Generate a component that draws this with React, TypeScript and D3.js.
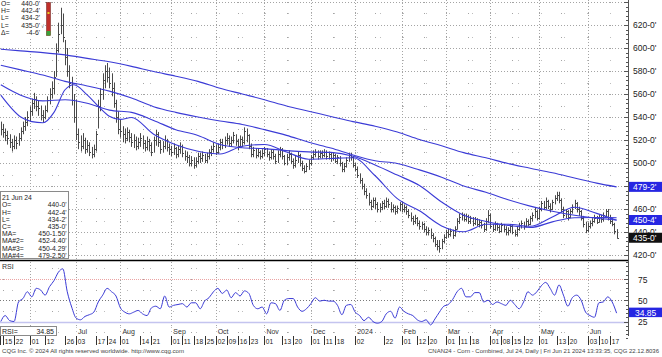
import React from 'react';
import * as d3 from 'd3';

// ---------- calendar ----------
const FIRST_DAY = '2023-05-12';
const LAST_DAY = '2024-06-21';
const HOLIDAYS = ['2023-05-29','2023-06-19','2023-07-04','2023-09-04','2023-11-23','2023-12-25','2024-01-01','2024-01-15','2024-02-19','2024-03-29','2024-05-27','2024-06-19'];

// ---------- daily bars (cents) ----------
const highs = [
  536,534,530,528,525,521,524,523,526,531,
  536,540,545,549,556,561,558,554,550,546,
  550,558,565,571,580,604,622,635,630,607,
  600,585,575,560,555,530,524,526,522,520,
  518,514,516,528,555,565,578,585,587,583,
  578,570,555,545,538,532,530,531,529,526,
  525,523,522,526,524,520,523,521,518,523,
  529,527,520,519,524,521,517,515,517,514,
  515,518,516,511,510,507,506,505,505,509,
  509,510,508,509,512,515,518,516,517,521,
  521,523,526,524,523,527,525,521,524,523,
  531,530,525,517,514,513,513,511,512,514,
  513,510,512,512,508,511,514,513,507,508,
  511,509,504,506,510,508,502,498,500,503,
  507,511,512,511,511,511,512,511,510,509,
  509,508,507,506,501,500,505,509,509,506,
  500,497,491,487,482,478,474,468,470,470,
  466,465,467,468,470,469,466,464,463,463,
  466,466,464,463,460,457,454,455,453,450,
  449,448,445,444,443,439,436,433,433,434,
  438,442,443,443,442,445,452,456,457,456,
  456,455,454,453,453,452,451,450,448,452,
  459,456,447,449,448,446,448,447,445,444,
  447,446,442,445,448,450,449,452,451,454,
  457,461,459,462,467,467,470,468,465,468,
  472,475,475,469,462,460,459,460,464,468,
  466,462,459,454,449,448,450,452,455,454,
  455,455,457,460,460,455,452,448,442.5
];
const lows = [
  524,522,519,516,513,510,512,512,515,519,
  525,528,532,536,541,547,545,541,537,535,
  538,544,551,556,560,575,596,612,605,585,
  575,565,550,535,520,512,510,512,508,509,
  506,504,505,510,530,545,555,565,570,565,
  558,548,535,525,522,518,517,519,518,514,
  513,511,512,514,512,510,511,510,506,509,
  515,514,508,509,512,510,507,506,507,504,
  505,508,505,502,500,497,497,495,496,499,
  500,501,500,500,503,506,509,507,508,511,
  512,513,516,514,514,517,515,511,513,514,
  516,518,512,505,505,504,505,503,504,506,
  505,502,503,503,499,500,505,503,498,498,
  502,499,495,496,500,497,493,491,492,494,
  498,503,505,503,504,504,505,503,503,501,
  502,500,499,497,492,492,496,501,502,496,
  493,487,482,477,472,469,463,459,461,460,
  457,457,459,460,461,461,457,457,455,456,
  458,457,457,455,452,449,446,447,445,442,
  442,440,437,437,434,431,427,424,422,425,
  430,434,435,436,434,436,442,447,450,449,
  449,447,447,445,446,445,444,443,440,441,
  448,443,440,441,441,439,440,440,437,437,
  439,438,436,436,441,443,442,444,445,446,
  449,452,450,451,458,459,460,460,457,459,
  464,467,465,457,452,452,450,452,456,460,
  457,454,450,444,439,440,443,445,448,447,
  448,448,449,452,450,447,445,438,434.25
];
const closes = [
  530,527,524,522,518,515,520,517,522,528,
  532,536,540,545,552,556,550,548,542,540,
  546,555,560,565,575,598,612,620,610,592,
  580,570,555,540,525,518,515,520,512,516,
  510,508,512,525,550,560,572,580,575,570,
  565,552,540,530,528,525,522,527,523,518,
  520,515,518,522,517,514,519,516,510,520,
  525,518,512,515,520,514,512,510,513,508,
  512,515,509,506,505,500,503,498,502,506,
  504,507,503,506,510,512,515,510,514,518,
  516,520,522,517,520,524,519,515,521,518,
  528,524,515,508,511,507,510,506,509,512,
  508,505,510,506,502,508,512,506,500,505,
  508,502,498,503,507,500,496,493,497,500,
  505,508,510,506,509,507,510,506,508,504,
  507,502,505,500,495,497,503,507,505,498,
  495,490,485,480,476,472,466,463,468,464,
  460,462,465,463,467,464,460,462,458,461,
  464,460,462,458,455,452,450,452,448,445,
  447,443,440,442,437,435,430,428,426,432,
  436,440,438,441,437,443,450,453,455,451,
  454,450,452,448,451,447,449,446,443,450,
  455,445,443,447,444,441,446,443,440,442,
  445,440,438,443,446,448,445,450,447,452,
  455,458,452,460,465,462,467,463,460,466,
  470,472,468,460,455,458,453,458,462,465,
  460,458,452,447,442,445,448,450,452,449,
  453,451,455,458,453,450,447,441,435
];

// ---------- moving averages (read at bar indices) ----------
const maFastIdx = [0,9,14,19,24,29,33,39,44,49,54,59,69,79,89,99,109,119,129,139,149,159,169,179,189,199,209,219,229,239,249,259,269,278];
const maFast = [559,540,536,535,544,563.7,568,559.2,549.4,540.7,537.9,539.6,525,515.9,510.2,507.8,514.6,516.1,509.6,503.3,503.9,504.6,488.9,469,458.4,445.3,440.2,446.7,446.8,445,453.1,461.5,456.2,450.15];
const maIdx = [0,9,19,29,39,49,59,69,79,89,99,109,119,129,139,149,159,169,179,189,199,209,219,229,239,249,259,269,278];
const ma2 = [568,559,554,555,552,546,544,537,529,524,516.1,513.3,512.5,510.8,509.7,509.2,505.8,498.3,489.5,480.4,466.1,454.6,449.2,445.7,443.9,448.8,452.4,452.6,452.44];
const ma3 = [585,581,576.5,571,567,562.5,556.5,549,544,540,536.5,533.5,529,524,518,513,507,502,499.5,494,487.7,480,474.5,468,462.5,458,454.5,452,450.43];
const ma4 = [599,597.5,596,594,591,588,584,579.5,575.5,571,565,560,555,549.5,545,540.5,536,532,527,520.5,515,509,504.5,499.5,495.5,491.5,487,482.5,479.25];

// ---------- RSI (every 2nd bar) ----------
const rsiStep = 2;
const rsi = [
  25,32,26,25,48,52,60,54,64,62,
  56,66,73,83,87,60,42,29,27,31,
  33,36,48,56,64,60,55,41,36,34,
  36,38,34,32,41,43,40,55,42,44,
  45,46,42,47,47,40,49,53,60,64,
  58,62,53,59,55,61,58,44,40,42,
  34,47,46,38,50,52,52,42,37,40,
  46,53,49,50,49,49,44,33,44,45,
  36,32,26,30,25,23,25,34,37,29,
  42,37,34,32,27,25,27,21,28,36,
  43,45,51,60,64,54,54,59,59,48,
  50,45,48,46,44,50,45,40,48,60,
  56,60,67,71,64,56,68,56,43,53,
  56,50,36,32,30,47,48,54,48,34.85
];

// ---------- axes / labels ----------
const priceTicks = [420,440,460,500,520,540,560,580,600,620];
const gridLevels = [420,440,460,480,500,520,540,560,580,600,620,640];
const rsiTicks = [25,50,75];
const monthStarts = ['2023-06-01','2023-07-03','2023-08-01','2023-09-01','2023-10-02','2023-11-01','2023-12-01','2024-01-02','2024-02-01','2024-03-01','2024-04-01','2024-05-01','2024-06-03'];
const monthLabels = ['','Jul','Aug','Sep','Oct','Nov','Dec','2024','Feb','Mar','Apr','May','Jun'];
const dayLabels = ['2023-05-15','2023-05-22','2023-06-01','2023-06-12','2023-06-26','2023-07-03','2023-07-17','2023-07-24','2023-08-01','2023-08-14','2023-08-21','2023-09-01','2023-09-11','2023-09-18','2023-09-25','2023-10-02','2023-10-09','2023-10-16','2023-10-23','2023-11-01','2023-11-13','2023-11-20','2023-12-01','2023-12-11','2023-12-18','2024-01-02','2024-01-22','2024-02-01','2024-02-12','2024-02-20','2024-03-01','2024-03-11','2024-03-18','2024-04-01','2024-04-08','2024-04-15','2024-04-22','2024-05-01','2024-05-13','2024-05-20','2024-06-03','2024-06-10','2024-06-17'];

const topLegendLabels = ['O=','H=','L=','L=','\u0394='];
const topLegendValues = ["440-0'","442-4'","434-2'","435-0'","-4-6'"];
const boxDate = '21 Jun 24';
const boxLabels = ['O=','H=','L=','C=','MA=','MA#2=','MA#3=','MA#4='];
const boxValues = ["440-0'","442-4'","434-2'","435-0'","450-1.50'","452-4.40'","450-4.29'","479-2.50'"];
const axisBoxes = [
  { v: 479.25, text: "479-2'", fill: '#2626e2' },
  { v: 450.43, text: "450-4'", fill: '#2626e2' },
  { v: 435, text: "435-0'", fill: '#111111' },
];
const rsiLast = 34.85;
const footerLeft = 'CQG Inc. \u00a9 2024 All rights reserved worldwide. http://www.cqg.com';
const footerRight = 'CNAN24 - Corn - Combined, Jul 24, Daily | Fri Jun 21 2024 13:33:35, CQG 22.12.8036';

function buildDays(): string[] {
  const out: string[] = [];
  const d = new Date(FIRST_DAY + 'T00:00:00Z');
  const end = new Date(LAST_DAY + 'T00:00:00Z');
  while (d <= end) {
    const wd = d.getUTCDay();
    const s = d.toISOString().slice(0, 10);
    if (wd !== 0 && wd !== 6 && !HOLIDAYS.includes(s)) out.push(s);
    d.setUTCDate(d.getUTCDate() + 1);
  }
  return out;
}

const FONT = "'Liberation Sans', Arial, Helvetica, sans-serif";
const GRID = '#a4a4a4';
const BLUE = '#3b3bd6';
const PLOT_R = 628;

export default function App() {
  const days = buildDays();
  const idxOf = new Map(days.map((d, i) => [d, i] as [string, number]));
  const n = closes.length;
  const x = d3.scaleLinear().domain([0, n - 1]).range([0.8, 616.6]);
  const y = d3.scaleLinear().domain([420, 620]).range([255, 25]);
  const yr = d3.scaleLinear().domain([25, 75]).range([321.5, 279]);
  const px = (i: number) => Math.round(x(i)) + 0.5;

  const majorX = monthStarts.map(d => idxOf.get(d)).filter(v => v !== undefined) as number[];
  const minorX: number[] = [];
  const seen = new Set<string>();
  days.forEach((d, i) => {
    const ym = d.slice(0, 7);
    if (!seen.has(ym) && +d.slice(8, 10) >= 15) { seen.add(ym); minorX.push(i); }
  });

  const levelsAll = d3.range(420, 650, 10);
  const levelsMinor = levelsAll.filter(v => v % 20 !== 0);
  const rsiMajor = [25, 50, 75];
  const rsiMinor = [12.5, 37.5, 62.5, 87.5];

  const lineFor = (idx: number[], sc: (v: number) => number) =>
    d3.line<number>().x((_, i) => x(idx[i])).y(v => sc(v)).curve(d3.curveMonotoneX);

  const rsiIdx = rsi.map((_, k) => Math.min(k * rsiStep, n - 1));

  const dots: JSX.Element[] = [];
  minorX.forEach((i, a) => {
    levelsAll.forEach((v, b) => dots.push(<rect key={`pm${a}-${b}`} x={Math.round(x(i))} y={Math.round(y(v))} width={1} height={1} fill={GRID} />));
    [...rsiMajor, ...rsiMinor].forEach((v, b) => dots.push(<rect key={`rm${a}-${b}`} x={Math.round(x(i))} y={Math.round(yr(v))} width={1} height={1} fill={GRID} />));
  });
  const allV = [...majorX, ...minorX];
  allV.forEach((i, a) => {
    levelsMinor.forEach((v, b) => dots.push(<rect key={`pn${a}-${b}`} x={Math.round(x(i))} y={Math.round(y(v))} width={1} height={1} fill={GRID} />));
  });
  levelsMinor.forEach((v, b) => {
    for (let xx = 12; xx < PLOT_R; xx += 23) dots.push(<rect key={`ps${b}-${xx}`} x={xx} y={Math.round(y(v))} width={1} height={1} fill="#bdbdbd" />);
  });
  rsiMinor.forEach((v, b) => {
    for (let xx = 12; xx < PLOT_R; xx += 23) dots.push(<rect key={`rs${b}-${xx}`} x={xx} y={Math.round(yr(v))} width={1} height={1} fill="#bdbdbd" />);
  });

  return (
    <svg width={662} height={357} viewBox="0 0 662 357" style={{ position: 'absolute', left: 0, top: 0, background: '#fff' }} fontFamily={FONT}>
      <defs>
        <clipPath id="pc"><rect x={0} y={0} width={PLOT_R} height={260} /></clipPath>
        <clipPath id="rc"><rect x={0} y={262} width={PLOT_R} height={64} /></clipPath>
      </defs>
      <rect x={0} y={0} width={662} height={357} fill="#fff" />

      {/* grid: price */}
      {gridLevels.map(v => (
        <line key={`h${v}`} x1={0} x2={PLOT_R} y1={Math.round(y(v)) + 0.5} y2={Math.round(y(v)) + 0.5} stroke={GRID} strokeDasharray="1,2" />
      ))}
      {majorX.map(i => (
        <g key={`v${i}`}>
          <line x1={px(i)} x2={px(i)} y1={0} y2={260} stroke={GRID} strokeDasharray="1,2" />
          <line x1={px(i)} x2={px(i)} y1={262} y2={326} stroke={GRID} strokeDasharray="1,2" />
          <line x1={px(i)} x2={px(i)} y1={327} y2={335} stroke="#c0c0c0" strokeDasharray="1,3" />
        </g>
      ))}
      {dots}

      {/* RSI reference lines */}
      <line x1={0} x2={PLOT_R} y1={Math.round(yr(75)) + 0.5} y2={Math.round(yr(75)) + 0.5} stroke="#eba3a3" strokeDasharray="1,1" />
      <line x1={0} x2={PLOT_R} y1={Math.round(yr(50)) + 0.5} y2={Math.round(yr(50)) + 0.5} stroke="#7a7a7a" strokeDasharray="1,2" />
      <line x1={0} x2={PLOT_R} y1={Math.round(yr(25)) + 0.5} y2={Math.round(yr(25)) + 0.5} stroke="#c4c4ef" strokeWidth={1.5} />

      {/* price bars */}
      <g clipPath="url(#pc)" stroke="#4a4a4a" strokeWidth={1}>
        {closes.map((c, i) => (
          <g key={`b${i}`}>
            <line x1={px(i)} x2={px(i)} y1={y(highs[i])} y2={y(lows[i])} />
            <line x1={px(i)} x2={px(i) + 1.5} y1={Math.round(y(c)) + 0.5} y2={Math.round(y(c)) + 0.5} />
          </g>
        ))}
      </g>

      {/* moving averages */}
      <g clipPath="url(#pc)" fill="none" stroke={BLUE} strokeWidth={1.1}>
        <path d={lineFor(maIdx, y)(ma4) || ''} />
        <path d={lineFor(maIdx, y)(ma3) || ''} />
        <path d={lineFor(maIdx, y)(ma2) || ''} />
        <path d={lineFor(maFastIdx, y)(maFast) || ''} />
      </g>

      {/* RSI */}
      <g clipPath="url(#rc)">
        <path d={lineFor(rsiIdx, yr)(rsi) || ''} fill="none" stroke={BLUE} strokeWidth={1} />
      </g>
      <text x={2} y={268.5} fontSize={7} fill="#333">RSI</text>

      {/* panel separator and right axis */}
      <line x1={0} x2={PLOT_R + 1} y1={260.5} y2={260.5} stroke="#000" strokeWidth={1.6} />
      <line x1={PLOT_R + 0.5} x2={PLOT_R + 0.5} y1={0} y2={336} stroke="#555" />
      {d3.range(420, 644, 4).map(v => (
        <line key={`t${v}`} x1={v % 20 === 0 ? PLOT_R - 4 : PLOT_R - 2} x2={PLOT_R} y1={Math.round(y(v)) + 0.5} y2={Math.round(y(v)) + 0.5} stroke="#555" />
      ))}
      {d3.range(5, 100, 5).map(v => (
        <line key={`rt${v}`} x1={v % 25 === 0 ? PLOT_R - 4 : PLOT_R - 2} x2={PLOT_R} y1={Math.round(yr(v)) + 0.5} y2={Math.round(yr(v)) + 0.5} stroke="#555" />
      ))}
      {priceTicks.map(v => (
        <text key={`pl${v}`} x={633} y={y(v) + 3} fontSize={8.5} fill="#222">{`${v}-0'`}</text>
      ))}
      {rsiTicks.map(v => (
        <text key={`rl${v}`} x={638} y={yr(v) + 3.5} fontSize={8.5} fill="#222">{v}</text>
      ))}
      {axisBoxes.map(b => (
        <g key={b.text}>
          <rect x={629} y={y(b.v) - 5} width={33} height={10} fill={b.fill} />
          <text x={633} y={y(b.v) + 3.2} fontSize={8.5} fill="#fff">{b.text}</text>
        </g>
      ))}
      <rect x={629} y={yr(rsiLast) - 5.5} width={33} height={9.5} fill="#2626e2" />
      <text x={635} y={yr(rsiLast) + 2.6} fontSize={8.5} fill="#fff">{rsiLast.toFixed(2)}</text>

      {/* top-left legend */}
      <rect x={0} y={0} width={45} height={38} fill="#fff" />
      {topLegendLabels.map((l, k) => (
        <g key={`tl${k}`}>
          <text x={1} y={5.6 + k * 7.4} fontSize={6.8} fill="#222">{l}</text>
          <text x={40} y={5.6 + k * 7.4} fontSize={6.8} fill="#222" textAnchor="end">{topLegendValues[k]}</text>
        </g>
      ))}
      <text x={41.2} y={27.5} fontSize={5} fill="#333">{'\u221a'}</text>
      <rect x={46.5} y={2.5} width={4} height={33} fill="#c0302a" stroke="#6a1a16" strokeWidth={0.5} />
      <rect x={46.5} y={31} width={4} height={4.5} fill="#3aa03a" />
      <rect x={47.5} y={12} width={2} height={2} fill="#e8d020" />

      {/* data window */}
      <rect x={0.5} y={191.5} width={68} height={67} fill="#fff" stroke="#8a8a8a" />
      <text x={2} y={200} fontSize={6.8} fill="#222">{boxDate}</text>
      {boxLabels.map((l, k) => (
        <g key={`bl${k}`}>
          <text x={2} y={207.3 + k * 7.2} fontSize={6.8} fill="#222">{l}</text>
          <text x={66.5} y={207.3 + k * 7.2} fontSize={6.8} fill="#222" textAnchor="end">{boxValues[k]}</text>
        </g>
      ))}

      {/* time axis */}
      {majorX.map((i, k) => monthLabels[k] ? (
        <text key={`ml${k}`} x={x(i) + 2} y={334} fontSize={7} fill="#333">{monthLabels[k]}</text>
      ) : null)}
      <rect x={0.5} y={326.5} width={56} height={9} fill="#fff" stroke="#8a8a8a" />
      <text x={2} y={334} fontSize={7} fill="#222">RSI=</text>
      <text x={54} y={334} fontSize={7} fill="#222" textAnchor="end">{rsiLast.toFixed(2)}</text>
      <line x1={0.5} x2={0.5} y1={336} y2={345} stroke="#333" />
      {dayLabels.map(d => {
        const i = idxOf.get(d);
        if (i === undefined) return null;
        return (
          <g key={`dl${d}`}>
            <line x1={px(i)} x2={px(i)} y1={336} y2={345} stroke="#333" />
            <text x={px(i) + 1.3} y={343.5} fontSize={6.6} fill="#222">{d.slice(8, 10)}</text>
          </g>
        );
      })}

      {/* footer */}
      <text x={2} y={352.5} fontSize={5.8} fill="#444" textLength={182} lengthAdjust="spacingAndGlyphs">{footerLeft}</text>
      <text x={428} y={352.5} fontSize={5.6} fill="#444" textLength={231} lengthAdjust="spacingAndGlyphs">{footerRight}</text>
    </svg>
  );
}
